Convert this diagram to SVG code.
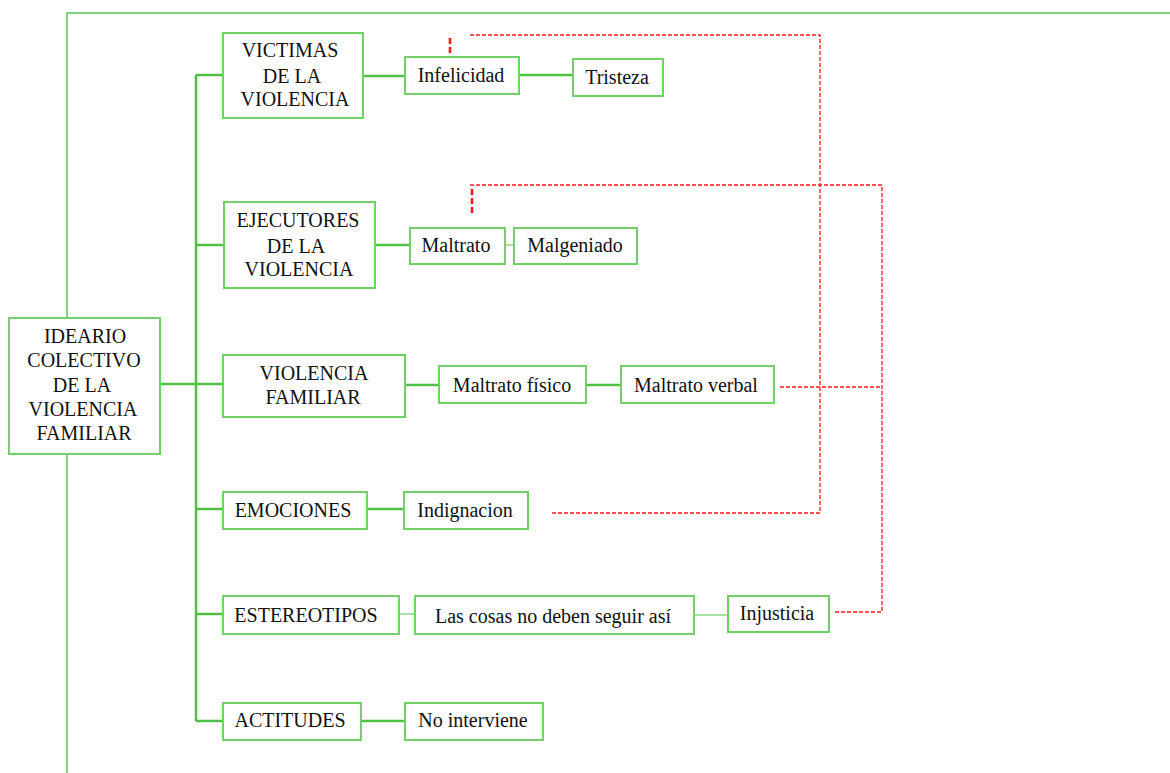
<svg xmlns="http://www.w3.org/2000/svg" width="1170" height="773" viewBox="0 0 1170 773">
<defs>
<style>
.bx{fill:#ffffff;stroke:#6fd166;stroke-width:2}
.t{font-family:'Liberation Serif','DejaVu Serif',serif;font-size:20px;fill:#111111;text-anchor:middle}
.c{fill:none;stroke:#4ec044;stroke-width:2.5}
.cl{fill:none;stroke:#8ad884;stroke-width:1.5}
.fr{fill:none;stroke:#7fd47a;stroke-width:2}
.rd{fill:none;stroke:#ff1a1a;stroke-width:1.3;stroke-dasharray:4 2}
.rdt{fill:none;stroke:#ff1a1a;stroke-width:2.6;stroke-dasharray:6 3}
</style>
</defs>
<rect width="1170" height="773" fill="#ffffff"/>
<g id="connectors">
<path class="fr" d="M67,773 V13 H1170"/>
<path class="c" d="M160,384 H223"/>
<path class="c" d="M196,721 V75"/>
<path class="c" d="M196,75 H223"/>
<path class="c" d="M196,245 H224"/>
<path class="c" d="M196,509 H223"/>
<path class="c" d="M196,614 H223"/>
<path class="c" d="M196,721 H223"/>
<path class="c" d="M363,76 H405"/>
<path class="c" d="M519,75 H573"/>
<path class="c" d="M375,245 H410"/>
<path class="cl" d="M505,245 H514"/>
<path class="c" d="M405,385 H439"/>
<path class="c" d="M586,385 H621"/>
<path class="c" d="M367,509 H404"/>
<path class="cl" d="M399,614 H415"/>
<path class="cl" d="M694,615 H728"/>
<path class="c" d="M361,721 H405"/>
<path class="rdt" d="M450,38 V54"/>
<path class="rd" d="M470,35 H820 V513 H550"/>
<path class="rdt" d="M472,189 V214"/>
<path class="rd" d="M470,185 H882 V612 H835"/>
<path class="rd" d="M780,387 H882"/>
</g>
<g id="root">
<rect class="bx" x="9" y="318" width="151" height="136"/>
<text class="t" x="85" y="343">IDEARIO</text>
<text class="t" x="84" y="367">COLECTIVO</text>
<text class="t" x="82" y="392">DE LA</text>
<text class="t" x="83" y="416">VIOLENCIA</text>
<text class="t" x="84" y="440">FAMILIAR</text>
</g>
<g id="victimas">
<rect class="bx" x="223" y="33" width="140" height="85"/>
<text class="t" x="290" y="57">VICTIMAS</text>
<text class="t" x="292" y="83">DE LA</text>
<text class="t" x="295" y="106">VIOLENCIA</text>
</g>
<g id="ejecutores">
<rect class="bx" x="224" y="202" width="151" height="86"/>
<text class="t" x="298" y="227">EJECUTORES</text>
<text class="t" x="296" y="253">DE LA</text>
<text class="t" x="299" y="276">VIOLENCIA</text>
</g>
<g id="violencia-familiar">
<rect class="bx" x="223" y="355" width="182" height="62"/>
<text class="t" x="314" y="380">VIOLENCIA</text>
<text class="t" x="313" y="404">FAMILIAR</text>
</g>
<g id="emociones">
<rect class="bx" x="223" y="492" width="144" height="37"/>
<text class="t" x="293" y="517">EMOCIONES</text>
</g>
<g id="estereotipos">
<rect class="bx" x="223" y="596" width="176" height="38"/>
<text class="t" x="306" y="622">ESTEREOTIPOS</text>
</g>
<g id="actitudes">
<rect class="bx" x="223" y="703" width="138" height="37"/>
<text class="t" x="290" y="727">ACTITUDES</text>
</g>
<g id="infelicidad">
<rect class="bx" x="405" y="57" width="114" height="37"/>
<text class="t" x="461" y="82">Infelicidad</text>
</g>
<g id="tristeza">
<rect class="bx" x="573" y="59" width="90" height="37"/>
<text class="t" x="617" y="84">Tristeza</text>
</g>
<g id="maltrato">
<rect class="bx" x="410" y="228" width="95" height="36"/>
<text class="t" x="456" y="252">Maltrato</text>
</g>
<g id="malgeniado">
<rect class="bx" x="514" y="228" width="123" height="36"/>
<text class="t" x="575" y="252">Malgeniado</text>
</g>
<g id="maltrato-fisico">
<rect class="bx" x="439" y="366" width="147" height="37"/>
<text class="t" x="512" y="392">Maltrato físico</text>
</g>
<g id="maltrato-verbal">
<rect class="bx" x="621" y="366" width="153" height="37"/>
<text class="t" x="696" y="392">Maltrato verbal</text>
</g>
<g id="indignacion">
<rect class="bx" x="404" y="492" width="124" height="37"/>
<text class="t" x="465" y="517">Indignacion</text>
</g>
<g id="las-cosas">
<rect class="bx" x="415" y="596" width="279" height="38"/>
<text class="t" x="553" y="623">Las cosas no deben seguir así</text>
</g>
<g id="injusticia">
<rect class="bx" x="728" y="596" width="101" height="36"/>
<text class="t" x="777" y="620">Injusticia</text>
</g>
<g id="no-interviene">
<rect class="bx" x="405" y="703" width="138" height="37"/>
<text class="t" x="473" y="727">No interviene</text>
</g>
</svg>
